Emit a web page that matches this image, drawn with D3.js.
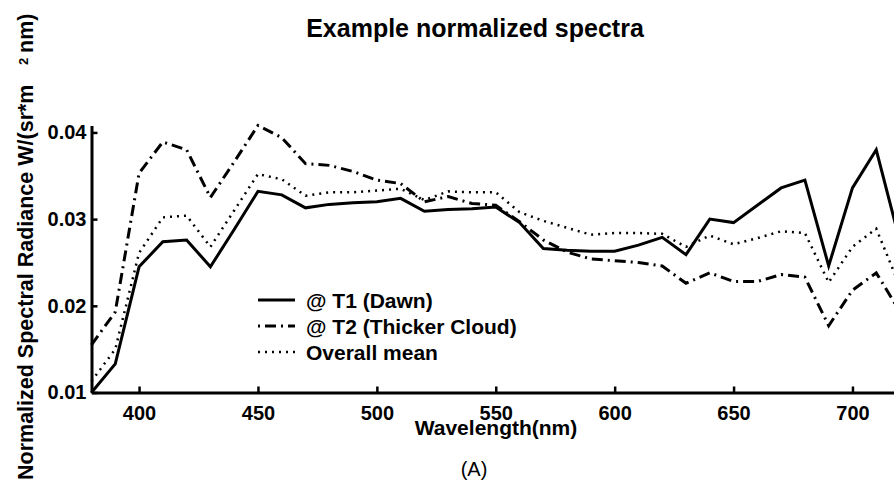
<!DOCTYPE html>
<html>
<head>
<meta charset="utf-8">
<script src="https://cdn.jsdelivr.net/npm/d3@7"></script>
<style>
  body { margin: 0; background: #fff; }
  svg { display: block; font-family: "Liberation Sans", Arial, Helvetica, sans-serif; }
  .axis path, .axis line { stroke: #000; }
  .axis text { font-size: 20px; font-weight: bold; fill: #000; }
</style>
</head>
<body>
<div id="chart"></div>
<script>
// Wavelengths (nm), one sample every 10 nm
var wavelengths = [380, 390, 400, 410, 420, 430, 440, 450, 460, 470, 480, 490, 500, 510,
                   520, 530, 540, 550, 560, 570, 580, 590, 600, 610, 620, 630, 640, 650,
                   660, 670, 680, 690, 700, 710, 720];

// @ T1 (Dawn)
var t1Dawn = [0.0100, 0.0133, 0.0245, 0.0274, 0.0276, 0.0245, 0.0288, 0.0332, 0.0328, 0.0313,
              0.0317, 0.0319, 0.0320, 0.0324, 0.0309, 0.0311, 0.0312, 0.0314, 0.0296, 0.0266,
              0.0264, 0.0263, 0.0263, 0.0270, 0.0279, 0.0259, 0.0300, 0.0296, 0.0316, 0.0336,
              0.0345, 0.0246, 0.0336, 0.0380, 0.0274];

// @ T2 (Thicker Cloud)
var t2Cloud = [0.0155, 0.0193, 0.0353, 0.0389, 0.0380, 0.0325, 0.0366, 0.0408, 0.0394, 0.0364,
               0.0362, 0.0355, 0.0345, 0.0341, 0.0320, 0.0326, 0.0318, 0.0316, 0.0297, 0.0276,
               0.0262, 0.0254, 0.0252, 0.0250, 0.0246, 0.0226, 0.0238, 0.0228, 0.0228, 0.0236,
               0.0233, 0.0177, 0.0218, 0.0238, 0.0193];

// Overall mean
var overallMean = [0.0113, 0.0150, 0.0261, 0.0302, 0.0304, 0.0268, 0.0310, 0.0352, 0.0346, 0.0327,
                   0.0331, 0.0331, 0.0333, 0.0335, 0.0322, 0.0332, 0.0331, 0.0331, 0.0308, 0.0298,
                   0.0290, 0.0282, 0.0284, 0.0284, 0.0283, 0.0268, 0.0281, 0.0271, 0.0278, 0.0286,
                   0.0284, 0.0227, 0.0268, 0.0289, 0.0222];

var seriesNames = ["@ T1 (Dawn)", "@ T2 (Thicker Cloud)", "Overall mean"];
var xTicks = [400, 450, 500, 550, 600, 650, 700];
var yTicks = [0.01, 0.02, 0.03, 0.04];

var width = 894, height = 483;

var svg = d3.select("#chart")
  .append("svg")
    .attr("width", width)
    .attr("height", height);

// Scales (the plot runs past the right edge of the picture, as in the original)
var x = d3.scaleLinear()
    .domain([380, 720])
    .range([91.5, 91.5 + 340 * 2.378]);

var y = d3.scaleLinear()
    .domain([0.01, 0.0408])
    .range([392.5, 125.5]);

// x axis, ticks pointing inward
svg.append("g")
    .attr("class", "axis")
    .attr("transform", "translate(0," + y(0.01) + ")")
    .call(d3.axisBottom(x).tickValues(xTicks).tickSizeInner(-6).tickSizeOuter(0).tickPadding(13))
    .call(function(g) {
      g.select(".domain").attr("stroke-width", 3);
      g.selectAll(".tick line").attr("stroke-width", 2.5);
    });

// y axis, ticks pointing inward
svg.append("g")
    .attr("class", "axis")
    .attr("transform", "translate(" + x(380) + ",0)")
    .call(d3.axisLeft(y).tickValues(yTicks).tickFormat(d3.format(".2f")).tickSizeInner(-6).tickSizeOuter(0).tickPadding(5))
    .call(function(g) {
      g.select(".domain").attr("stroke-width", 3);
      g.selectAll(".tick line").attr("stroke-width", 2.5);
      g.selectAll(".tick text").attr("font-size", 21);
    });

// Lines
var styles = [
  {values: t1Dawn, dash: null, w: 3},
  {values: t2Cloud, dash: "11,5,2,5", w: 3},
  {values: overallMean, dash: "2,5", w: 2.5}
];

var line = d3.line()
    .x(function(d) { return x(d[0]); })
    .y(function(d) { return y(d[1]); });

styles.forEach(function(s) {
  svg.append("path")
      .datum(wavelengths.map(function(w, i) { return [w, s.values[i]]; }))
      .attr("fill", "none")
      .attr("stroke", "#000")
      .attr("stroke-width", s.w)
      .attr("stroke-dasharray", s.dash)
      .attr("d", line);
});

// Legend (no box)
var legend = svg.append("g")
    .attr("transform", "translate(258,300)");

seriesNames.forEach(function(name, i) {
  var row = legend.append("g").attr("transform", "translate(0," + (i * 26) + ")");
  row.append("line")
      .attr("x1", 0).attr("x2", 37)
      .attr("y1", 0).attr("y2", 0)
      .attr("stroke", "#000")
      .attr("stroke-width", styles[i].w)
      .attr("stroke-dasharray", i === 1 ? "2,5,11,5" : styles[i].dash);
  row.append("text")
      .attr("x", 48)
      .attr("y", 7.5)
      .attr("font-size", 21)
      .attr("font-weight", "bold")
      .text(name);
});

// Title
svg.append("text")
    .attr("x", 475)
    .attr("y", 37)
    .attr("text-anchor", "middle")
    .attr("font-size", 25)
    .attr("font-weight", "bold")
    .text("Example normalized spectra");

// x axis label
svg.append("text")
    .attr("x", 496)
    .attr("y", 435)
    .attr("text-anchor", "middle")
    .attr("font-size", 21)
    .attr("font-weight", "bold")
    .text("Wavelength(nm)");

// Panel label
svg.append("text")
    .attr("x", 474)
    .attr("y", 476)
    .attr("text-anchor", "middle")
    .attr("font-size", 20)
    .text("(A)");

// y axis label, rotated, with the odd superscript spacing of the original
var ylab = svg.append("text")
    .attr("transform", "translate(33,480) rotate(-90)")
    .attr("font-size", 21.5)
    .attr("font-weight", "bold");
ylab.append("tspan").text("Normalized Spectral Radiance W/(sr*m");
ylab.append("tspan").attr("x", 415).attr("dy", -5).attr("font-size", 13).text("2");
ylab.append("tspan").attr("x", 427).attr("dy", 5).text("nm)");
</script>
</body>
</html>
